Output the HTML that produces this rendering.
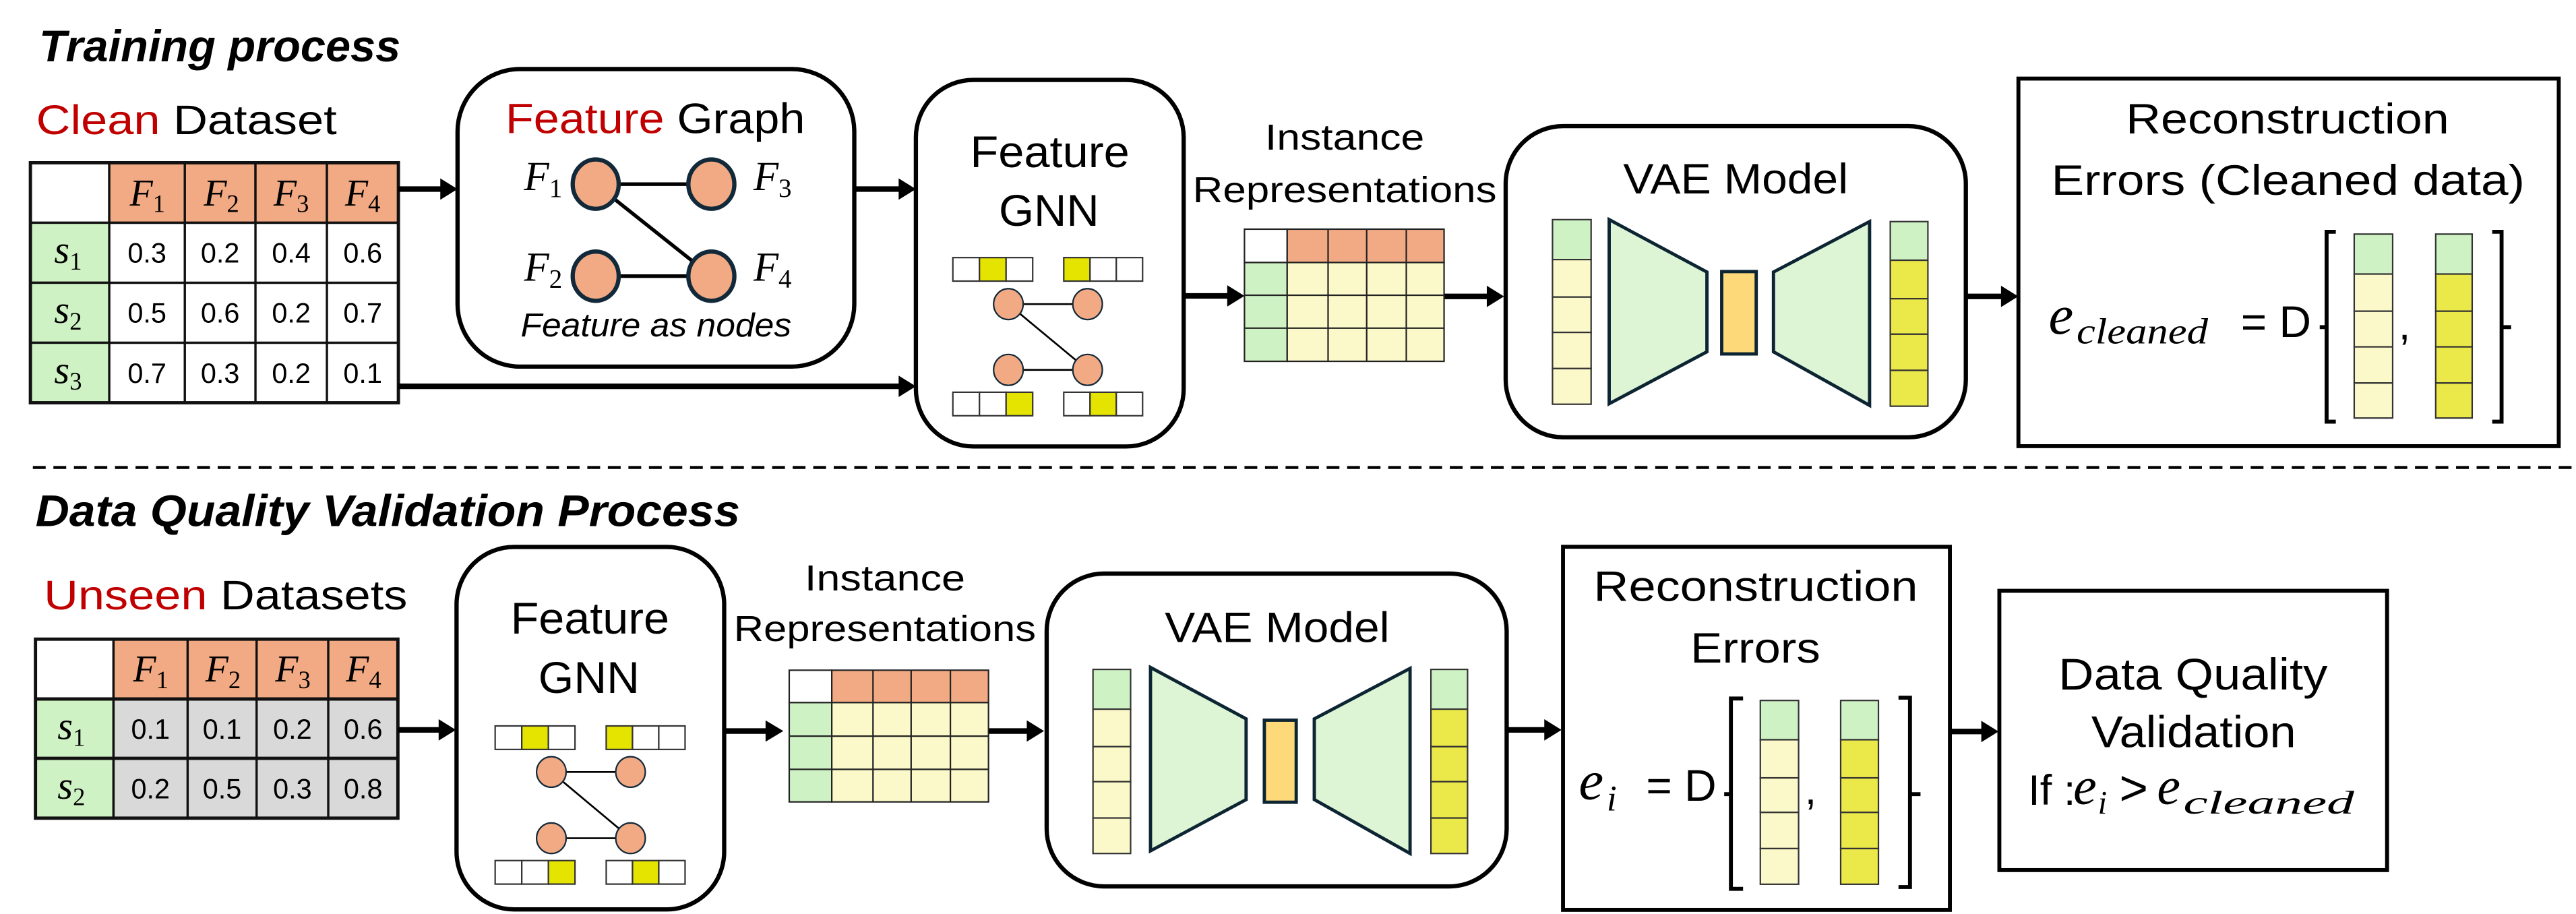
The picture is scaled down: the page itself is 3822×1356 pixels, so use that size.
<!DOCTYPE html>
<html><head><meta charset="utf-8"><style>
html,body{margin:0;padding:0;background:#fff;}
svg{display:block;}
.s{font-family:"Liberation Sans",sans-serif;fill:#000;}
.m{font-family:"Liberation Serif",serif;font-style:italic;fill:#000;}
</style></head><body>
<svg width="3822" height="1356" viewBox="0 0 1568 556" preserveAspectRatio="none" xmlns="http://www.w3.org/2000/svg">
<rect x="0" y="0" width="1568" height="556" fill="#fff"/>

<!-- ========== TOP ========== -->
<text class="s" x="23.8" y="37.3" font-size="27" font-weight="bold" font-style="italic" textLength="220" lengthAdjust="spacingAndGlyphs">Training process</text>
<text class="s" x="22" y="81.5" font-size="25" textLength="183" lengthAdjust="spacingAndGlyphs"><tspan fill="#c00000">Clean</tspan> Dataset</text>

<!-- table 1 -->
<g stroke="#111" stroke-width="1.4">
<rect x="18.5" y="99" width="48" height="36.5" fill="#fff"/>
<rect x="66.5" y="99" width="46" height="36.5" fill="#f1aa84"/>
<rect x="112.5" y="99" width="43" height="36.5" fill="#f1aa84"/>
<rect x="155.5" y="99" width="43.5" height="36.5" fill="#f1aa84"/>
<rect x="199" y="99" width="43.5" height="36.5" fill="#f1aa84"/>
<rect x="18.5" y="135.5" width="48" height="36.5" fill="#cff2c4"/>
<rect x="18.5" y="172" width="48" height="36.5" fill="#cff2c4"/>
<rect x="18.5" y="208.5" width="48" height="36.5" fill="#cff2c4"/>
<path d="M66.5 135.5H242.5M66.5 172H242.5M66.5 208.5H242.5M112.5 135.5V245M155.5 135.5V245M199 135.5V245" fill="none"/>
</g>
<rect x="18.5" y="99" width="224" height="146" fill="none" stroke="#111" stroke-width="2"/>
<g class="m" font-size="23">
<text x="79" y="125">F<tspan font-size="15" font-style="normal" dy="4">1</tspan></text>
<text x="124" y="125">F<tspan font-size="15" font-style="normal" dy="4">2</tspan></text>
<text x="166.5" y="125">F<tspan font-size="15" font-style="normal" dy="4">3</tspan></text>
<text x="210" y="125">F<tspan font-size="15" font-style="normal" dy="4">4</tspan></text>
<text x="33" y="160" font-size="24">s<tspan font-size="15" font-style="normal" dy="4">1</tspan></text>
<text x="33" y="196.5" font-size="24">s<tspan font-size="15" font-style="normal" dy="4">2</tspan></text>
<text x="33" y="233" font-size="24">s<tspan font-size="15" font-style="normal" dy="4">3</tspan></text>
</g>
<g class="s" font-size="17" text-anchor="middle">
<text x="89.5" y="159.8">0.3</text><text x="134" y="159.8">0.2</text><text x="177.3" y="159.8">0.4</text><text x="220.8" y="159.8">0.6</text>
<text x="89.5" y="196.3">0.5</text><text x="134" y="196.3">0.6</text><text x="177.3" y="196.3">0.2</text><text x="220.8" y="196.3">0.7</text>
<text x="89.5" y="232.8">0.7</text><text x="134" y="232.8">0.3</text><text x="177.3" y="232.8">0.2</text><text x="220.8" y="232.8">0.1</text>
</g>

<!-- arrows top -->
<g fill="#000" stroke="#000" stroke-width="3.4">
<line x1="242.5" y1="115" x2="270" y2="115"/><polygon stroke="none" points="268,108.5 278.5,115 268,121.5"/>
<line x1="242.5" y1="235" x2="549" y2="235"/><polygon stroke="none" points="547,228.5 557.5,235 547,241.5"/>
<line x1="520" y1="115" x2="549" y2="115"/><polygon stroke="none" points="547,108.5 557.5,115 547,121.5"/>
<line x1="720.5" y1="180" x2="749" y2="180"/><polygon stroke="none" points="747,173.5 757.5,180 747,186.5"/>
<line x1="879" y1="180.3" x2="907" y2="180.3"/><polygon stroke="none" points="905,173.8 915.5,180.3 905,186.8"/>
<line x1="1196.6" y1="180.3" x2="1220" y2="180.3"/><polygon stroke="none" points="1218,173.8 1228.5,180.3 1218,186.8"/>
</g>

<!-- Feature Graph box -->
<rect x="278.5" y="42" width="241.5" height="181" rx="38" ry="38" fill="#fff" stroke="#000" stroke-width="2.6"/>
<text class="s" x="307.7" y="81" font-size="26" textLength="182.3" lengthAdjust="spacingAndGlyphs"><tspan fill="#c00000">Feature</tspan> Graph</text>
<g stroke="#000" stroke-width="2.2">
<line x1="362.6" y1="112" x2="433" y2="112"/>
<line x1="362.6" y1="168" x2="433" y2="168"/>
<line x1="362.6" y1="112" x2="433" y2="168"/>
</g>
<g fill="#f1aa84" stroke="#12293a" stroke-width="2.6">
<ellipse cx="362.6" cy="112" rx="14" ry="15"/><ellipse cx="433" cy="112" rx="14" ry="15"/>
<ellipse cx="362.6" cy="168" rx="14" ry="15"/><ellipse cx="433" cy="168" rx="14" ry="15"/>
</g>
<g class="m" font-size="25">
<text x="319" y="115.7">F<tspan font-size="16" font-style="normal" dy="4">1</tspan></text>
<text x="458.6" y="115.7">F<tspan font-size="16" font-style="normal" dy="4">3</tspan></text>
<text x="319" y="170.8">F<tspan font-size="16" font-style="normal" dy="4">2</tspan></text>
<text x="458.6" y="170.8">F<tspan font-size="16" font-style="normal" dy="4">4</tspan></text>
</g>
<text class="s" x="316.9" y="204.6" font-size="20" font-style="italic" textLength="164.8" lengthAdjust="spacingAndGlyphs">Feature as nodes</text>

<!-- GNN box top -->
<rect x="557.5" y="48.6" width="163" height="223" rx="35" ry="35" fill="#fff" stroke="#000" stroke-width="2.6"/>
<text class="s" x="590.5" y="101.7" font-size="27" textLength="97" lengthAdjust="spacingAndGlyphs">Feature</text>
<text class="s" x="608" y="137.4" font-size="27" textLength="61" lengthAdjust="spacingAndGlyphs">GNN</text>
<g transform="translate(580,156.7)">
<g stroke="#333" stroke-width="0.9">
<rect x="0" y="0" width="16.2" height="14.3" fill="#fff"/><rect x="16.2" y="0" width="16.2" height="14.3" fill="#e5e300"/><rect x="32.4" y="0" width="16.2" height="14.3" fill="#fff"/>
<rect x="67.5" y="0" width="16" height="14.3" fill="#e5e300"/><rect x="83.5" y="0" width="16" height="14.3" fill="#fff"/><rect x="99.5" y="0" width="16" height="14.3" fill="#fff"/>
<rect x="0" y="81.9" width="16.2" height="14.3" fill="#fff"/><rect x="16.2" y="81.9" width="16.2" height="14.3" fill="#fff"/><rect x="32.4" y="81.9" width="16.2" height="14.3" fill="#e5e300"/>
<rect x="67.5" y="81.9" width="16" height="14.3" fill="#fff"/><rect x="83.5" y="81.9" width="16" height="14.3" fill="#e5e300"/><rect x="99.5" y="81.9" width="16" height="14.3" fill="#fff"/>
</g>
<g stroke="#000" stroke-width="1.1">
<line x1="33.8" y1="28.3" x2="82" y2="28.3"/><line x1="33.8" y1="68.3" x2="82" y2="68.3"/><line x1="33.8" y1="28.3" x2="82" y2="68.3"/>
</g>
<g fill="#f1aa84" stroke="#12293a" stroke-width="0.9">
<ellipse cx="33.8" cy="28.3" rx="9" ry="9.4"/><ellipse cx="82" cy="28.3" rx="9" ry="9.4"/>
<ellipse cx="33.8" cy="68.3" rx="9" ry="9.4"/><ellipse cx="82" cy="68.3" rx="9" ry="9.4"/>
</g>
</g>

<!-- Instance Representations top -->
<text class="s" x="770" y="91" font-size="22" textLength="97" lengthAdjust="spacingAndGlyphs">Instance</text>
<text class="s" x="726" y="123" font-size="22" textLength="185" lengthAdjust="spacingAndGlyphs">Representations</text>
<g transform="translate(757.5,139.4)">
<g stroke="#222" stroke-width="0.9">
<rect x="0" y="0" width="26" height="20.3" fill="#fff"/>
<rect x="26" y="0" width="95.5" height="20.3" fill="#f1aa84"/>
<rect x="0" y="20.3" width="26" height="60.1" fill="#cff2c4"/>
<rect x="26" y="20.3" width="95.5" height="60.1" fill="#fbf8c9"/>
<path d="M50.9 0V80.4M74.4 0V80.4M98.5 0V80.4M0 40.2H121.5M0 60.2H121.5" fill="none"/>
</g>
</g>

<!-- VAE top -->
<rect x="916.5" y="76.7" width="280.1" height="189.3" rx="35" ry="35" fill="#fff" stroke="#000" stroke-width="2.6"/>
<text class="s" x="988" y="117.7" font-size="26" textLength="137" lengthAdjust="spacingAndGlyphs">VAE Model</text>
<g transform="translate(945,133.6)">
<g stroke="#333" stroke-width="0.9">
<rect x="0" y="0" width="23.5" height="24.3" fill="#cff2c4"/>
<rect x="0" y="24.3" width="23.5" height="22.8" fill="#fbf8c9"/>
<rect x="0" y="47.1" width="23.5" height="21.5" fill="#fbf8c9"/>
<rect x="0" y="68.6" width="23.5" height="22" fill="#fbf8c9"/>
<rect x="0" y="90.6" width="23.5" height="21.7" fill="#fbf8c9"/>
</g>
<g fill="#ddf5d5" stroke="#0d2533" stroke-width="2">
<polygon points="34.5,0 94,31.9 94,80.4 34.5,112"/>
<polygon points="134.5,31.9 193,1.2 193,113 134.5,80.4"/>
</g>
<rect x="103" y="31.6" width="21" height="50.1" fill="#fdd97a" stroke="#0d2533" stroke-width="2"/>
<g stroke="#333" stroke-width="0.9">
<rect x="205.6" y="1.2" width="22.9" height="23.5" fill="#cff2c4"/>
<rect x="205.6" y="24.7" width="22.9" height="23.4" fill="#ebe84a"/>
<rect x="205.6" y="48.1" width="22.9" height="21.6" fill="#ebe84a"/>
<rect x="205.6" y="69.7" width="22.9" height="22" fill="#ebe84a"/>
<rect x="205.6" y="91.7" width="22.9" height="21.8" fill="#ebe84a"/>
</g>
</g>

<!-- Recon top -->
<rect x="1228.6" y="47.8" width="328.9" height="223.6" fill="#fff" stroke="#000" stroke-width="2.4"/>
<text class="s" x="1294" y="81.2" font-size="26" textLength="196.8" lengthAdjust="spacingAndGlyphs">Reconstruction</text>
<text class="s" x="1248.6" y="118.4" font-size="26" textLength="288.2" lengthAdjust="spacingAndGlyphs">Errors (Cleaned data)</text>
<text class="m" x="1247" y="203" font-size="34">e</text>
<text class="m" x="1264" y="209" font-size="22" textLength="80" lengthAdjust="spacingAndGlyphs">cleaned</text>
<text class="s" x="1364" y="205" font-size="27">= D</text>
<g transform="translate(1433,142.4)">
<g fill="none" stroke="#000" stroke-width="2.4">
<path d="M-11.2 -1.4H-16.8V114.1H-11.2"/><path d="M-16.8 56.6H-21"/>
<path d="M84 -1.4H89.7V114.1H84"/><path d="M89.7 56.6H95.5"/>
</g>
<g stroke="#333" stroke-width="0.9">
<rect x="0" y="0" width="23.4" height="24.3" fill="#cff2c4"/>
<rect x="0" y="24.3" width="23.4" height="22.6" fill="#fbf8c9"/>
<rect x="0" y="46.9" width="23.4" height="21.7" fill="#fbf8c9"/>
<rect x="0" y="68.6" width="23.4" height="22" fill="#fbf8c9"/>
<rect x="0" y="90.6" width="23.4" height="21.3" fill="#fbf8c9"/>
<rect x="49.6" y="0" width="22.2" height="24.3" fill="#cff2c4"/>
<rect x="49.6" y="24.3" width="22.2" height="22.6" fill="#ebe84a"/>
<rect x="49.6" y="46.9" width="22.2" height="21.7" fill="#ebe84a"/>
<rect x="49.6" y="68.6" width="22.2" height="22" fill="#ebe84a"/>
<rect x="49.6" y="90.6" width="22.2" height="21.3" fill="#ebe84a"/>
</g>
<text class="s" x="27" y="64" font-size="26">,</text>
</g>

<!-- dashed separator -->
<line x1="20" y1="284.4" x2="1568" y2="284.4" stroke="#000" stroke-width="1.8" stroke-dasharray="7.8 4.7"/>

<!-- ========== BOTTOM ========== -->
<text class="s" x="21.6" y="320" font-size="27" font-weight="bold" font-style="italic" textLength="428.9" lengthAdjust="spacingAndGlyphs">Data Quality Validation Process</text>
<text class="s" x="26.7" y="370.6" font-size="25" textLength="221.3" lengthAdjust="spacingAndGlyphs"><tspan fill="#c00000">Unseen</tspan> Datasets</text>

<!-- table 2 -->
<g stroke="#111" stroke-width="1.4">
<rect x="21.6" y="388.8" width="47.5" height="36.4" fill="#fff"/>
<rect x="69.1" y="388.8" width="173.1" height="36.4" fill="#f1aa84"/>
<rect x="21.6" y="425.2" width="47.5" height="72.5" fill="#cff2c4"/>
<rect x="69.1" y="425.2" width="173.1" height="72.5" fill="#d9d9d9"/>
<path d="M114.2 388.8V497.7M156.2 388.8V497.7M199.8 388.8V497.7M21.6 461.3H242.2" fill="none"/>
</g>
<path d="M21.6 425.2H242.2M21.6 461.3H242.2" stroke="#111" stroke-width="2"/>
<rect x="21.6" y="388.8" width="220.6" height="108.9" fill="none" stroke="#111" stroke-width="2"/>
<g class="m" font-size="23">
<text x="81" y="414.6">F<tspan font-size="15" font-style="normal" dy="4">1</tspan></text>
<text x="125" y="414.6">F<tspan font-size="15" font-style="normal" dy="4">2</tspan></text>
<text x="167.5" y="414.6">F<tspan font-size="15" font-style="normal" dy="4">3</tspan></text>
<text x="210.5" y="414.6">F<tspan font-size="15" font-style="normal" dy="4">4</tspan></text>
<text x="35" y="449.6" font-size="24">s<tspan font-size="15" font-style="normal" dy="4">1</tspan></text>
<text x="35" y="485.8" font-size="24">s<tspan font-size="15" font-style="normal" dy="4">2</tspan></text>
</g>
<g class="s" font-size="17" text-anchor="middle">
<text x="91.6" y="449.4">0.1</text><text x="135.2" y="449.4">0.1</text><text x="178" y="449.4">0.2</text><text x="221" y="449.4">0.6</text>
<text x="91.6" y="485.6">0.2</text><text x="135.2" y="485.6">0.5</text><text x="178" y="485.6">0.3</text><text x="221" y="485.6">0.8</text>
</g>

<!-- arrows bottom -->
<g fill="#000" stroke="#000" stroke-width="3.4">
<line x1="242.2" y1="444" x2="269" y2="444"/><polygon stroke="none" points="267,437.5 277.5,444 267,450.5"/>
<line x1="440.8" y1="444.7" x2="468" y2="444.7"/><polygon stroke="none" points="466,438.2 476.8,444.7 466,451.2"/>
<line x1="601.7" y1="444.7" x2="627" y2="444.7"/><polygon stroke="none" points="625,438.2 635.5,444.7 625,451.2"/>
<line x1="917" y1="444" x2="942" y2="444"/><polygon stroke="none" points="940,437.5 950.5,444 940,450.5"/>
<line x1="1187" y1="445" x2="1208" y2="445"/><polygon stroke="none" points="1206,438.5 1216.5,445 1206,451.5"/>
</g>

<!-- GNN bottom -->
<rect x="277.9" y="332.7" width="162.9" height="220.5" rx="35" ry="35" fill="#fff" stroke="#000" stroke-width="2.6"/>
<text class="s" x="310.8" y="385.5" font-size="27" textLength="96.6" lengthAdjust="spacingAndGlyphs">Feature</text>
<text class="s" x="327.7" y="421.6" font-size="27" textLength="61.6" lengthAdjust="spacingAndGlyphs">GNN</text>
<g transform="translate(301.4,441.6)">
<g stroke="#333" stroke-width="0.9">
<rect x="0" y="0" width="16.2" height="14.3" fill="#fff"/><rect x="16.2" y="0" width="16.2" height="14.3" fill="#e5e300"/><rect x="32.4" y="0" width="16.2" height="14.3" fill="#fff"/>
<rect x="67.6" y="0" width="16" height="14.3" fill="#e5e300"/><rect x="83.6" y="0" width="16" height="14.3" fill="#fff"/><rect x="99.6" y="0" width="16" height="14.3" fill="#fff"/>
<rect x="0" y="81.9" width="16.2" height="14.3" fill="#fff"/><rect x="16.2" y="81.9" width="16.2" height="14.3" fill="#fff"/><rect x="32.4" y="81.9" width="16.2" height="14.3" fill="#e5e300"/>
<rect x="67.6" y="81.9" width="16" height="14.3" fill="#fff"/><rect x="83.6" y="81.9" width="16" height="14.3" fill="#e5e300"/><rect x="99.6" y="81.9" width="16" height="14.3" fill="#fff"/>
</g>
<g stroke="#000" stroke-width="1.1">
<line x1="34.2" y1="28" x2="82.4" y2="28"/><line x1="34.2" y1="68.3" x2="82.4" y2="68.3"/><line x1="34.2" y1="28" x2="82.4" y2="68.3"/>
</g>
<g fill="#f1aa84" stroke="#12293a" stroke-width="0.9">
<ellipse cx="34.2" cy="28" rx="9" ry="9.3"/><ellipse cx="82.4" cy="28" rx="9" ry="9.3"/>
<ellipse cx="34.2" cy="68.3" rx="9" ry="9.3"/><ellipse cx="82.4" cy="68.3" rx="9" ry="9.3"/>
</g>
</g>

<!-- Instance Representations bottom -->
<text class="s" x="489.8" y="359.1" font-size="22" textLength="97.7" lengthAdjust="spacingAndGlyphs">Instance</text>
<text class="s" x="446.6" y="390" font-size="22" textLength="184" lengthAdjust="spacingAndGlyphs">Representations</text>
<g transform="translate(480.4,407.7)">
<g stroke="#222" stroke-width="0.9">
<rect x="0" y="0" width="25.9" height="19.7" fill="#fff"/>
<rect x="25.9" y="0" width="95.4" height="19.7" fill="#f1aa84"/>
<rect x="0" y="19.7" width="25.9" height="60.4" fill="#cff2c4"/>
<rect x="25.9" y="19.7" width="95.4" height="60.4" fill="#fbf8c9"/>
<path d="M51 0V80.1M74.2 0V80.1M98.1 0V80.1M0 40.1H121.3M0 60.3H121.3" fill="none"/>
</g>
</g>

<!-- VAE bottom -->
<rect x="637.1" y="348.9" width="280" height="190.3" rx="35" ry="35" fill="#fff" stroke="#000" stroke-width="2.6"/>
<text class="s" x="709" y="390.6" font-size="26" textLength="136.8" lengthAdjust="spacingAndGlyphs">VAE Model</text>
<g transform="translate(665.3,407.2)">
<g stroke="#333" stroke-width="0.9">
<rect x="0" y="0" width="22.9" height="24.2" fill="#cff2c4"/>
<rect x="0" y="24.2" width="22.9" height="22.8" fill="#fbf8c9"/>
<rect x="0" y="47" width="22.9" height="21.3" fill="#fbf8c9"/>
<rect x="0" y="68.3" width="22.9" height="22.1" fill="#fbf8c9"/>
<rect x="0" y="90.4" width="22.9" height="21.6" fill="#fbf8c9"/>
</g>
<g fill="#ddf5d5" stroke="#0d2533" stroke-width="2">
<polygon points="35,-1.2 93.2,30.1 93.2,79.2 35,110.4"/>
<polygon points="134.7,30.1 193,-0.6 193,112 134.7,79.2"/>
</g>
<rect x="104.3" y="30.9" width="19.4" height="49.9" fill="#fdd97a" stroke="#0d2533" stroke-width="2"/>
<g stroke="#333" stroke-width="0.9">
<rect x="205.7" y="0" width="22.3" height="24.2" fill="#cff2c4"/>
<rect x="205.7" y="24.2" width="22.3" height="22.8" fill="#ebe84a"/>
<rect x="205.7" y="47" width="22.3" height="21.3" fill="#ebe84a"/>
<rect x="205.7" y="68.3" width="22.3" height="22.1" fill="#ebe84a"/>
<rect x="205.7" y="90.4" width="22.3" height="21.6" fill="#ebe84a"/>
</g>
</g>

<!-- Recon bottom -->
<rect x="951.4" y="332.6" width="235.5" height="220.9" fill="#fff" stroke="#000" stroke-width="2.4"/>
<text class="s" x="970" y="365.6" font-size="26" textLength="197.4" lengthAdjust="spacingAndGlyphs">Reconstruction</text>
<text class="s" x="1029" y="403" font-size="26" textLength="79" lengthAdjust="spacingAndGlyphs">Errors</text>
<text class="m" x="961" y="486" font-size="34">e</text>
<text class="m" x="978" y="493" font-size="22">i</text>
<text class="s" x="1002" y="487.2" font-size="27">= D</text>
<g transform="translate(1071.5,426.1)">
<g fill="none" stroke="#000" stroke-width="2.4">
<path d="M-10.5 -1.2H-17.9V114.6H-10.5"/><path d="M-17.9 57H-22"/>
<path d="M84.1 -1.7H91.1V113.5H84.1"/><path d="M91.1 57H97.5"/>
</g>
<g stroke="#333" stroke-width="0.9">
<rect x="0" y="0" width="23.3" height="23.9" fill="#cff2c4"/>
<rect x="0" y="23.9" width="23.3" height="23.2" fill="#fbf8c9"/>
<rect x="0" y="47.1" width="23.3" height="21" fill="#fbf8c9"/>
<rect x="0" y="68.1" width="23.3" height="22" fill="#fbf8c9"/>
<rect x="0" y="90.1" width="23.3" height="21.7" fill="#fbf8c9"/>
<rect x="48.9" y="0" width="23" height="23.9" fill="#cff2c4"/>
<rect x="48.9" y="23.9" width="23" height="23.2" fill="#ebe84a"/>
<rect x="48.9" y="47.1" width="23" height="21" fill="#ebe84a"/>
<rect x="48.9" y="68.1" width="23" height="22" fill="#ebe84a"/>
<rect x="48.9" y="90.1" width="23" height="21.7" fill="#ebe84a"/>
</g>
<text class="s" x="27" y="63" font-size="26">,</text>
</g>

<!-- DQV box -->
<rect x="1217" y="359.4" width="236" height="169.9" fill="#fff" stroke="#000" stroke-width="2.4"/>
<text class="s" x="1253" y="419.4" font-size="27" textLength="163.8" lengthAdjust="spacingAndGlyphs">Data Quality</text>
<text class="s" x="1273" y="454.5" font-size="27" textLength="124.6" lengthAdjust="spacingAndGlyphs">Validation</text>
<text class="s" x="1234.5" y="489.6" font-size="26">If :</text>
<text class="m" x="1262" y="489" font-size="32">e</text>
<text class="m" x="1277" y="495" font-size="20">i</text>
<text class="s" x="1290" y="489.6" font-size="30">&gt;</text>
<text class="m" x="1313" y="489" font-size="32">e</text>
<text class="m" x="1329" y="495" font-size="20" textLength="104" lengthAdjust="spacingAndGlyphs">cleaned</text>
</svg>
</body></html>
